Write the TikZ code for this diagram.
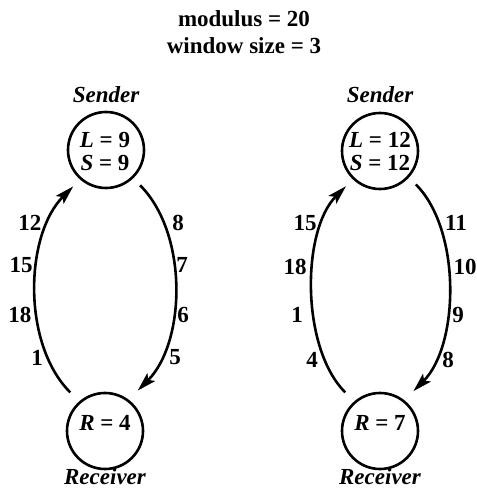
\documentclass[tikz,border=0pt]{standalone}
\usepackage{fontspec}
\setmainfont{Liberation Serif}
\usetikzlibrary{arrows.meta}
\begin{document}
\begin{tikzpicture}[x=1pt,y=1pt,
  txt/.style={font=\bfseries\fontsize{23}{23}\selectfont, inner sep=0pt},
  ctxt/.style={font=\bfseries\fontsize{23}{23}\selectfont, inner sep=0pt, align=center},
  ital/.style={txt, font=\bfseries\itshape\fontsize{23}{23}\selectfont},
  sendc/.style={circle, draw, line width=2.6pt, minimum size=76pt, inner sep=0pt, outer sep=11pt},
  recvc/.style={circle, draw, line width=2.6pt, minimum size=76pt, inner sep=0pt, outer sep=14pt},
  arc/.style={line width=2.6pt, -{Stealth[length=19pt,width=11pt,inset=4pt]}}
]
\useasboundingbox (0,0) rectangle (477,491);
% title
\node[txt, anchor=base] (t1) at (244,464) {modulus = 20};
\node[txt, anchor=base] (t2) at (244,437) {window size = 3};

% left diagram
\node[sendc] (S1) at (106,341) {};
\node[recvc] (R1) at (105,60) {};
\node[ital, anchor=base] (S1n) at (106,388) {Sender};
\node[ital, anchor=base] (R1n) at (105,6) {Receiver};
\node[ctxt, anchor=base] (S1a) at (105,320) {\textit{L} = 9\\\textit{S} = 9};
\node[ctxt, anchor=base] (R1a) at (105,60.5) {\textit{R} = 4};
\draw[arc] (R1.132) to[out=135,in=225,looseness=.85] (S1.228);
\draw[arc] (S1.314) to[out=-45,in=45,looseness=.85] (R1.51);
\node[txt] (l12) at (30,268) {12};
\node[txt] (l15) at (21,226) {15};
\node[txt] (l18) at (20,176) {18};
\node[txt] (l1) at (37,133) {1};
\node[txt] (r8) at (178,268) {8};
\node[txt] (r7) at (182,226) {7};
\node[txt] (r6) at (183,176) {6};
\node[txt] (r5) at (175,134) {5};

% right diagram
\node[sendc] (S2) at (380,340) {};
\node[recvc] (R2) at (380,60) {};
\node[ital, anchor=base] (S2n) at (380,388) {Sender};
\node[ital, anchor=base] (R2n) at (380,6) {Receiver};
\node[ctxt, anchor=base] (S2a) at (380,320) {\textit{L} = 12\\\textit{S} = 12};
\node[ctxt, anchor=base] (R2a) at (380,60.5) {\textit{R} = 7};
\draw[arc] (R2.132) to[out=135,in=225,looseness=.78] (S2.226);
\draw[arc] (S2.317) to[out=-45,in=45,looseness=.8] (R2.50);
\node[txt] (m15) at (305,268) {15};
\node[txt] (m18) at (295,224) {18};
\node[txt] (m1) at (297,176) {1};
\node[txt] (m4) at (312,131) {4};
\node[txt] (n11) at (456,268) {11};
\node[txt] (n10) at (465,224) {10};
\node[txt] (n9) at (458,176) {9};
\node[txt] (n8) at (448,131) {8};
\end{tikzpicture}
\end{document}
